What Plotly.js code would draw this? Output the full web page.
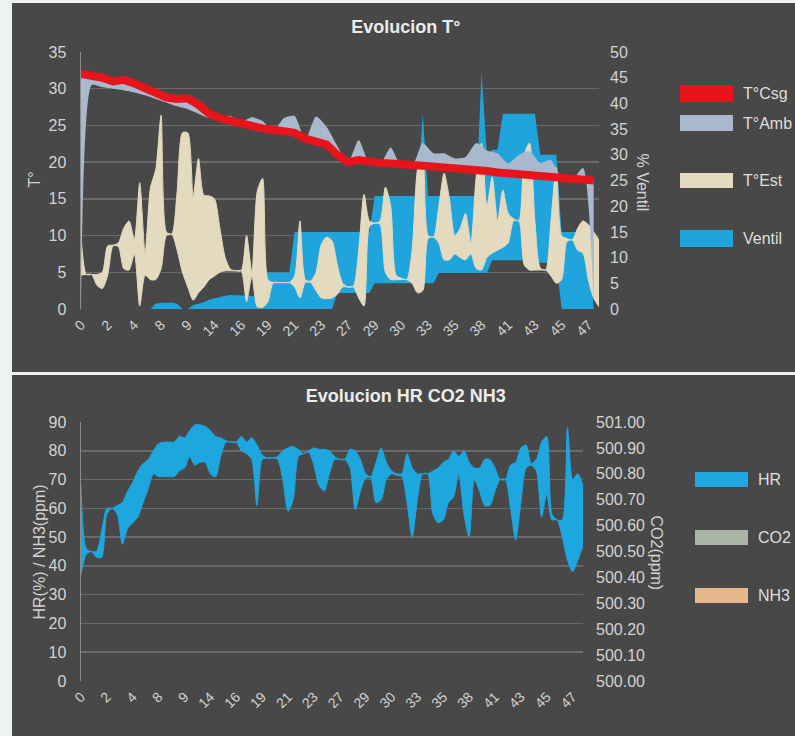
<!DOCTYPE html>
<html><head><meta charset="utf-8">
<script src="https://cdn.plot.ly/plotly-3.0.1.min.js"></script>
<style>
html,body{margin:0;padding:0;background:#eef3ef;width:795px;height:736px;overflow:hidden;}
#c1{position:absolute;left:12px;top:3px;width:783px;height:369px;}
#c2{position:absolute;left:12px;top:375px;width:783px;height:361px;}
</style></head><body>
<div id="c1"></div><div id="c2"></div>
<script>
// ---------- data ----------
const dayLabels = ['0','2','4','8','9','14','16','19','21','23','27','29','30','33','35','38','41','43','45','47'];
const nCat = 98;                       // categories (label every 5th)
const idx = Array.from({length: nCat}, (_, i) => i);
const idxEven = idx.filter(i => i % 2 === 0 && i <= 96);

const tCsg = [32.0,31.8,31.5,31.0,31.2,30.7,30.1,29.6,28.8,28.6,28.7,27.8,26.6,26.0,25.6,25.2,25.0,24.6,24.4,24.2,
  24.0,23.2,22.9,22.4,21.0,20.0,20.3,20.0,19.9,19.8,19.6,19.6,19.5,19.4,19.4,19.3,19.1,19.0,18.8,18.6,
  18.5,18.3,18.1,18.0,17.9,17.8,17.7,17.6,17.5];
const tAmb = [0,30.5,30.2,30.0,29.8,29.5,29.1,28.6,28.1,27.6,27.2,26.6,26.0,26.1,26.3,25.5,26.1,25.6,24.2,26.0,
  26.3,23.0,26.2,24.8,22.2,19.9,23.0,19.8,19.7,22.0,19.4,19.4,22.6,21.2,21.2,20.5,20.7,22.6,21.6,21.2,
  19.8,21.0,21.5,19.9,20.3,17.8,17.6,19.2,1.0];
const tEstLow = [4.6,4.7,4.7,3.2,2.8,4.6,8.6,8.5,5.5,5.3,
  7.5,0.4,4.6,4.0,4.0,5.5,10.0,10.2,8.0,5.0,
  3.0,1.2,2.2,3.0,4.0,4.5,5.0,5.2,5.2,5.2,
  5.2,1.0,4.5,0.3,0.2,1.0,3.6,3.6,3.6,3.6,
  3.0,1.5,3.6,3.6,2.5,1.5,1.4,1.5,2.0,3.0,
  3.0,3.0,1.5,0.4,11.2,11.7,11.5,5.0,4.0,4.0,
  4.0,4.0,3.5,2.2,2.5,9.6,9.8,9.0,6.7,6.7,
  7.5,7.0,6.7,7.5,5.5,5.3,7.0,7.6,8.0,8.4,
  9.0,12.0,12.0,6.0,5.3,5.3,5.3,5.3,4.5,3.5,
  4.0,9.2,9.4,8.0,7.6,4.0,1.5,0.3];
const tEstHigh = [10.0,4.7,4.7,4.7,5.0,8.6,8.7,9.0,11.0,12.0,
  9.5,17.2,7.6,16.5,19.0,26.4,10.5,10.2,16.0,24.0,
  24.0,15.3,20.5,15.5,15.4,15.0,11.0,7.0,5.4,5.2,
  5.2,10.0,5.0,16.0,17.8,4.0,3.6,3.6,3.6,3.6,
  4.5,12.0,4.0,3.8,5.0,8.8,9.8,9.3,6.0,3.5,
  3.0,3.1,8.0,15.6,12.0,11.7,12.0,16.6,14.0,4.6,
  4.2,4.0,8.0,19.0,21.4,10.0,9.8,14.0,18.5,15.0,
  10.0,11.0,13.0,9.0,18.0,22.6,14.0,18.0,12.0,16.2,
  13.0,12.3,12.0,21.0,22.6,12.0,5.6,5.3,12.0,19.3,
  10.0,9.6,9.4,11.0,12.0,11.5,10.5,9.4];
const ventLow = [0,0,0,0,0,0,0,0,0,0, 0,0,0,0,0,0,0,0,0,0,
  0,0,0,0,0,0,0,0,0,0, 0,0,0,0,0,0,0,0,0,0,
  0,0,0,0,0,0,0,0,3.1,3.1, 3.1,3.1,3.1,3.1,3.1,5,5,5,5,5,
  5,5,5,5,5,5,5,7,7,7, 7,7,7,7,7,7,7,9.5,9.5,9.5,
  9.5,9.5,9.5,9.5,9.5,9,9,9,9,9, 0,0,0,0,0,0,0,0];
const ventHigh = [0,0,0,0,0,0,0,0,0,0, 0,0,0,0,1.0,1.2,1.2,1.2,1.0,0,
  0,0.8,1.0,1.3,1.8,2.1,2.3,2.6,2.7,2.7, 2.7,2.7,2.6,2.2,7.1,7.1,7.1,7.1,7.1,7.1,
  15,15,15,15,15,15,15,15,15,15, 15,15,15,15,15,22,22,22,22,22,
  22,22,22,22,38,22,22,22,22,22, 22,22,22,22,22,46,30,31,31,38,
  38,38,38,38,38,38,30,30,30,30, 15,15,15,15,15,15,0,0];

const hrLow = [37,44,45,43,43,58,60,58,47.5,53,
  55,57,62,67,72,71,71,71,71,73,
  74,78,75,76,76,72,71,78,83,83,
  83,80,79,77,61,77,77.5,77.5,77,70,
  59,63,78,79,79.5,75,68,66,72,77,
  77,77,74,59.5,66,70.5,70.5,62,63,70,
  72,71.5,71,62,50,63,72,72,58,55,
  56,62,64,72,58,50,70,66,61,61,
  66,70,70,60,49,62,74,75,73,57,
  65,56,56,50,42,38,42,47];
const hrHigh = [68,46,45,45,52,60,60,61,62,66,
  69,73,75.5,77,80,82.5,83,83,83,85,
  84.5,87,89,89,88.5,87,85,84.5,83.5,83,
  83,85,83,84.5,82,78.5,77.5,77.5,78,80,
  81,81.5,80.5,79,80,81,80.5,80.5,80,78,
  77,77,80.5,80,77,72,71,76,81,76,
  73,72,72,79,74,72,72,72,73,74,
  76,77,80,78,80,76,74,74,77,77,
  74,70,70,75,76,81,82,75.5,77,83,
  85,58,56,56,88,70,72,68];
const co2 = [];
const nh3 = [];

// ---------- style ----------
const BG = '#484848', GRID = '#6a6a6a', TXT = '#d3d3d3', AXL = '#8c8c8c';
const C = {csg:'#e8141c', amb:'#a8b8cd', est:'#e3dabf', vent:'#1fa4dc', hr:'#1ea6de', co2:'#a9b6a6', nh3:'#e6b98d'};
const FAM = 'Liberation Sans, Arial, sans-serif';
const tickIdx = dayLabels.map((_, i) => i * 5);

function helper(W, H, m) {
  return { X: x => (x - m.l) / (W - m.l - m.r), Y: y => (H - m.b - y) / (H - m.t - m.b) };
}
function legend(h, items, x0, x1, tx) {
  const shapes = [], ann = [];
  items.forEach(it => {
    shapes.push({type:'rect', xref:'paper', yref:'paper', x0:h.X(x0), x1:h.X(x1), y0:h.Y(it.y0), y1:h.Y(it.y1),
      fillcolor: it.c, line:{width:0}});
    ann.push({xref:'paper', yref:'paper', x:h.X(tx), y:h.Y((it.y0+it.y1)/2), text: it.t, showarrow:false,
      xanchor:'left', yanchor:'middle', font:{family:FAM, size:16, color:'#dedede'}});
  });
  return {shapes, ann};
}
const xCommon = {type:'linear', range:[0, nCat-1], tickmode:'array', tickvals:tickIdx, ticktext:dayLabels,
  tickangle:-45, showgrid:false, zeroline:false, showline:false, ticks:'', fixedrange:true, ticklabelstandoff:4,
  tickfont:{family:FAM, size:14, color:TXT}};

// ---------- chart 1 ----------
const W1 = 783, H1 = 369, m1 = {l:69, r:196, t:49, b:63};
const h1 = helper(W1, H1, m1);
const lg1 = legend(h1, [
  {t:'T°Csg', c:C.csg, y0:82, y1:99},
  {t:'T°Amb', c:C.amb, y0:112, y1:128},
  {t:'T°Est', c:C.est, y0:170, y1:185},
  {t:'Ventil', c:C.vent, y0:227, y1:244}], 668, 721, 729);

const traces1 = [
  {x:idx, y:ventLow, yaxis:'y', mode:'lines', line:{width:0, color:C.vent}, hoverinfo:'skip'},
  {x:idx, y:ventHigh, yaxis:'y', mode:'lines', fill:'tonexty', fillcolor:C.vent, line:{width:0, color:C.vent}, name:'Ventil'},
  {x:idx, y:tEstLow, yaxis:'y2', mode:'lines', line:{width:1, color:C.est, shape:'spline', smoothing:0.7}, hoverinfo:'skip'},
  {x:idx, y:tEstHigh, yaxis:'y2', mode:'lines', fill:'tonexty', fillcolor:C.est, line:{width:1, color:C.est, shape:'spline', smoothing:0.7}, name:'T°Est'},
  {x:idxEven, y:tCsg, yaxis:'y2', mode:'lines', line:{width:0, color:C.csg}, hoverinfo:'skip'},
  {x:idxEven, y:tAmb, yaxis:'y2', mode:'lines', fill:'tonexty', fillcolor:C.amb, line:{width:0, color:C.amb, shape:'spline', smoothing:0.6}, name:'T°Amb'},
  {x:idxEven, y:tCsg, yaxis:'y2', mode:'lines', line:{width:8, color:C.csg}, name:'T°Csg'}
];
const layout1 = {
  width:W1, height:H1, margin:m1, paper_bgcolor:BG, plot_bgcolor:BG, showlegend:false,
  font:{family:FAM, size:16, color:TXT},
  title:{text:'Evolucion T°', x:0.503, xref:'container', y:1-24/H1, yref:'container', yanchor:'middle', xanchor:'center',
    font:{family:FAM, size:18, weight:'bold', color:'#ececec'}},
  xaxis:Object.assign({}, xCommon),
  yaxis:{range:[0,50], side:'right', dtick:5, showgrid:false, zeroline:false, ticks:'', ticklabelstandoff:10,
    tickfont:{family:FAM, size:16, color:TXT}, fixedrange:true},
  yaxis2:{range:[0,35], overlaying:'y', side:'left', dtick:5, showgrid:true, gridcolor:GRID, gridwidth:1.5,
    zeroline:false, showline:true, linecolor:AXL, linewidth:1.5, ticks:'', ticklabelstandoff:10,
    tickfont:{family:FAM, size:16, color:TXT}, fixedrange:true},
  shapes: lg1.shapes,
  annotations: lg1.ann.concat([
    {xref:'paper', yref:'paper', x:h1.X(11), y:h1.Y(177), text:'T°', showarrow:false, textangle:-90,
      font:{family:FAM, size:16, color:TXT}},
    {xref:'paper', yref:'paper', x:h1.X(641), y:h1.Y(179), text:'% Ventil', showarrow:false, textangle:90,
      font:{family:FAM, size:16, color:TXT}}
  ])
};
Plotly.newPlot('c1', traces1, layout1, {staticPlot:true});

// ---------- chart 2 ----------
const W2 = 783, H2 = 361, m2 = {l:69, r:212, t:47, b:55};
const h2 = helper(W2, H2, m2);
const lg2 = legend(h2, [
  {t:'HR', c:C.hr, y0:97, y1:112},
  {t:'CO2', c:C.co2, y0:155, y1:170},
  {t:'NH3', c:C.nh3, y0:213, y1:228}], 683, 736, 744);

const traces2 = [
  {x:idx, y:hrLow, yaxis:'y', mode:'lines', line:{width:1, color:C.hr, shape:'spline', smoothing:0.7}, hoverinfo:'skip'},
  {x:idx, y:hrHigh, yaxis:'y', mode:'lines', fill:'tonexty', fillcolor:C.hr, line:{width:1, color:C.hr, shape:'spline', smoothing:0.7}, name:'HR'},
  {x:co2.map((_, i) => i), y:co2, yaxis:'y2', mode:'lines', fill:'tozeroy', fillcolor:C.co2, line:{width:0}, name:'CO2'},
  {x:nh3.map((_, i) => i), y:nh3, yaxis:'y', mode:'lines', fill:'tozeroy', fillcolor:C.nh3, line:{width:0}, name:'NH3'}
];
const layout2 = {
  width:W2, height:H2, margin:m2, paper_bgcolor:BG, plot_bgcolor:BG, showlegend:false,
  font:{family:FAM, size:16, color:TXT},
  title:{text:'Evolucion HR CO2 NH3', x:0.503, xref:'container', y:1-21/H2, yref:'container', yanchor:'middle', xanchor:'center',
    font:{family:FAM, size:18, weight:'bold', color:'#ececec'}},
  xaxis:Object.assign({}, xCommon),
  yaxis:{range:[0,90], side:'left', dtick:10, showgrid:true, gridcolor:GRID, gridwidth:1.5, zeroline:false,
    showline:true, linecolor:AXL, linewidth:1.5, ticks:'', ticklabelstandoff:10,
    tickfont:{family:FAM, size:16, color:TXT}, fixedrange:true},
  yaxis2:{range:[500,501], overlaying:'y', side:'right', dtick:0.1, tickformat:'.2f', showgrid:false, zeroline:false,
    ticks:'', ticklabelstandoff:12, tickfont:{family:FAM, size:16, color:TXT}, fixedrange:true},
  shapes: lg2.shapes,
  annotations: lg2.ann.concat([
    {xref:'paper', yref:'paper', x:h2.X(16), y:h2.Y(177), text:'HR(%) / NH3(ppm)', showarrow:false, textangle:-90,
      font:{family:FAM, size:16, color:TXT}},
    {xref:'paper', yref:'paper', x:h2.X(655), y:h2.Y(178), text:'CO2(ppm)', showarrow:false, textangle:90,
      font:{family:FAM, size:16, color:TXT}}
  ])
};
Plotly.newPlot('c2', traces2, layout2, {staticPlot:true});
</script>
</body></html>
